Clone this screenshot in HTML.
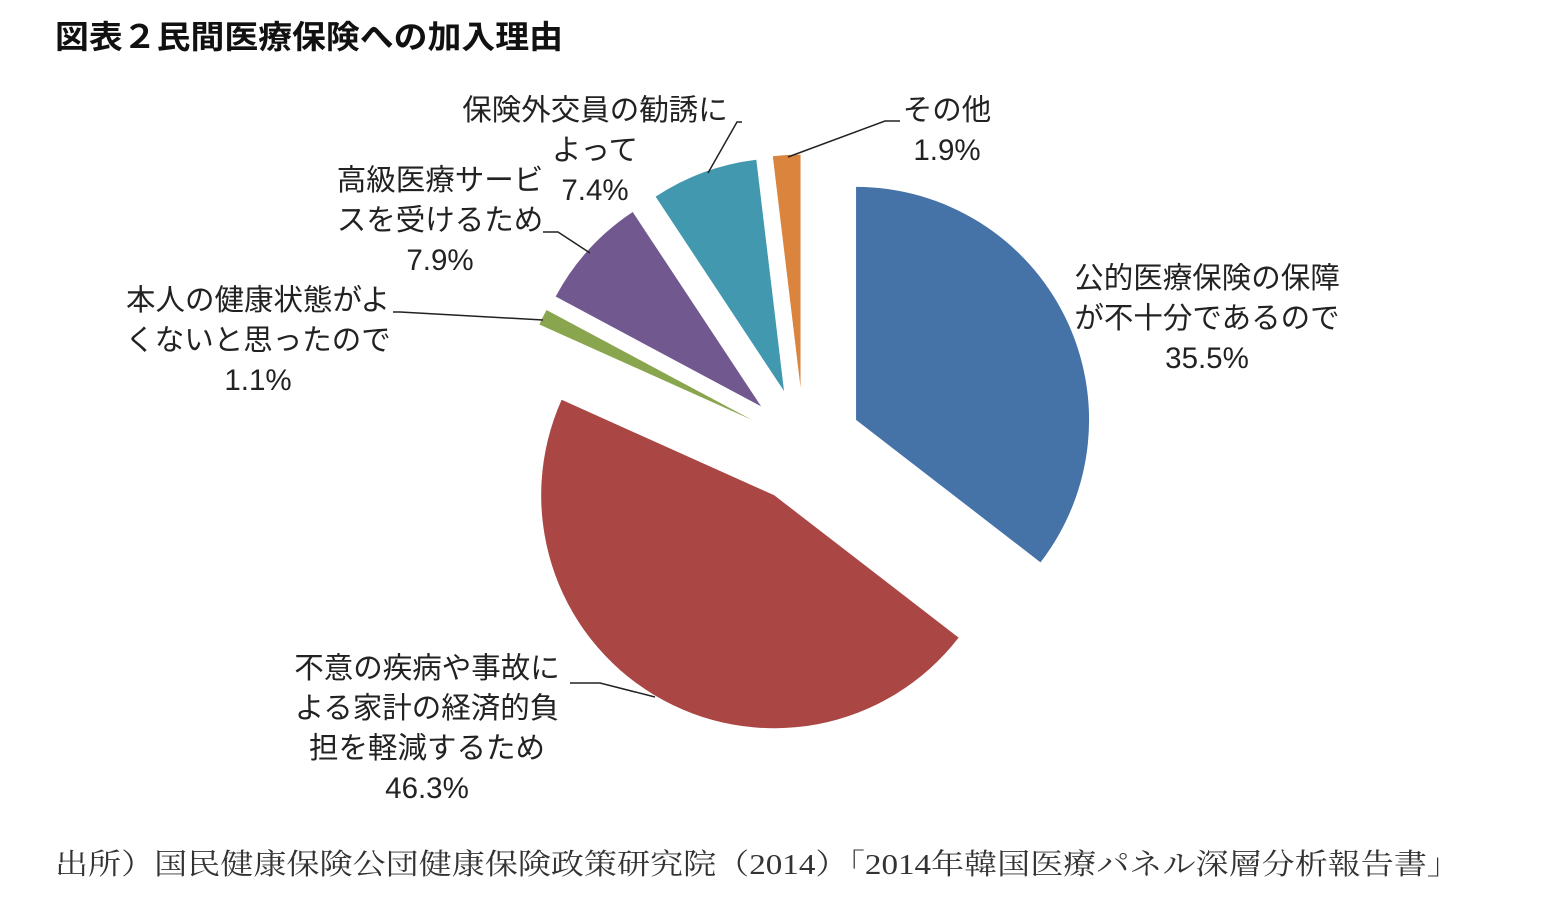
<!DOCTYPE html>
<html><head><meta charset="utf-8">
<style>
body{margin:0;background:#fff;width:1561px;height:901px;overflow:hidden;}
svg{display:block;}
.lbl{font-family:"Liberation Sans","Noto Sans CJK JP",sans-serif;font-size:29.5px;fill:#222;}
</style></head>
<body>
<svg id="chart" width="1561" height="901">
  <text x="55" y="48" font-family="Liberation Sans, Noto Sans CJK JP, sans-serif" font-size="32" font-weight="bold" fill="#111" textLength="508" lengthAdjust="spacingAndGlyphs">図表２民間医療保険への加入理由</text>
  <text x="55" y="874" font-family="Liberation Serif, Noto Serif CJK SC, serif" font-size="29" fill="#333" textLength="1405" lengthAdjust="spacingAndGlyphs">出所）国民健康保険公団健康保険政策研究院（2014）「2014年韓国医療パネル深層分析報告書」</text>
  <g id="slices"></g>
  <g id="leaders" stroke="#222" stroke-width="1.5" fill="none">
    <polyline points="788,157 885,121 900,121"/>
    <polyline points="708,173 737,122 742,122"/>
    <polyline points="590,253 558,232 543,232"/>
    <polyline points="543,320 400,312 393,312"/>
    <polyline points="655,697 600,683 570,683"/>
  </g>
  <g id="labels"></g>
</svg>
<script>
const categories=["公的医療保険の保障が不十分であるので","不意の疾病や事故による家計の経済的負担を軽減するため","本人の健康状態がよくないと思ったので","高級医療サービスを受けるため","保険外交員の勧誘によって","その他"];
const values=[35.5,46.3,1.1,7.9,7.4,1.9];
const valueLabels=["35.5%","46.3%","1.1%","7.9%","7.4%","1.9%"];
const colors=["#4572a7","#aa4643","#89a54e","#71588f","#4198af","#db843d"];
const labelLines=[["公的医療保険の保障","が不十分であるので"],["不意の疾病や事故に","よる家計の経済的負","担を軽減するため"],["本人の健康状態がよ","くないと思ったので"],["高級医療サービ","スを受けるため"],["保険外交員の勧誘に","よって"],["その他"]];
const labelPos=[[1207,278],[427,668],[258,300],[440,180],[595,110],[947,110]];
const cx=804,cy=445.5,r=233,explode=58;
const total=values.reduce((a,b)=>a+b,0);
const ns="http://www.w3.org/2000/svg";
const sg=document.getElementById('slices'),lg=document.getElementById('labels');
function pt(x,y,ang,rad){return [x+rad*Math.sin(ang),y-rad*Math.cos(ang)];}
let acc=0;
values.forEach((v,i)=>{
  const a0=acc/total*2*Math.PI; acc+=v; const a1=acc/total*2*Math.PI;
  const am=(a0+a1)/2;
  const [ox,oy]=pt(cx,cy,am,explode);
  const [x0,y0]=pt(ox,oy,a0,r),[x1,y1]=pt(ox,oy,a1,r);
  const p=document.createElementNS(ns,'path');
  p.setAttribute('d',`M${ox},${oy}L${x0},${y0}A${r},${r} 0 ${(a1-a0)>Math.PI?1:0} 1 ${x1},${y1}Z`);
  p.setAttribute('fill',colors[i]);
  
  
  sg.appendChild(p);
  const t=document.createElementNS(ns,'text');
  t.setAttribute('class','lbl');
  t.setAttribute('text-anchor','middle');
  
  
  const lines=labelLines[i].concat([valueLabels[i]]);
  lines.forEach((s,j)=>{
    const ts=document.createElementNS(ns,'tspan');
    ts.setAttribute('x',labelPos[i][0]);
    ts.setAttribute('y',labelPos[i][1]+10+j*40);
    ts.textContent=s;
    t.appendChild(ts);
  });
  lg.appendChild(t);
});
</script>
</body></html>
